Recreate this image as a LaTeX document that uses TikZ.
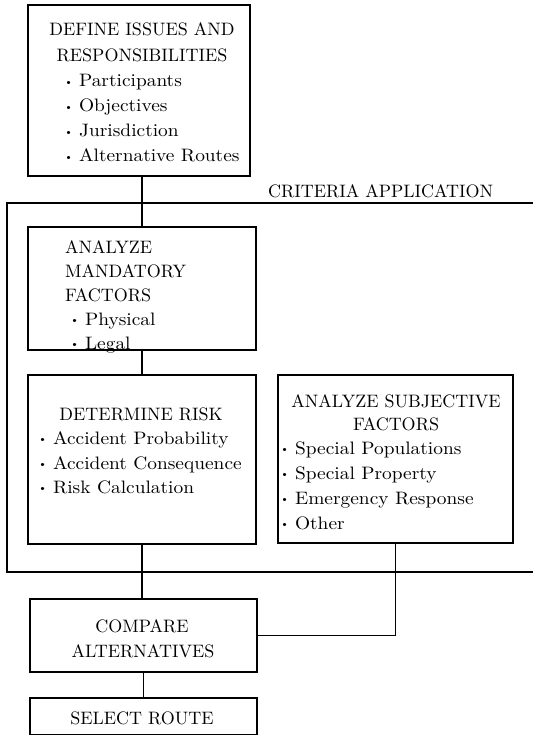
\documentclass[tikz,border=0pt]{standalone}
\usepackage{graphicx}
\newcommand\T[1]{\scalebox{1.8}{\fontsize{10}{12}\selectfont #1}}
\newcommand\TL[1]{\scalebox{1.94}[1.8]{\fontsize{10}{12}\selectfont #1}}
\newcommand\bul{\raisebox{1pt}{\scalebox{.6}{\textbullet}}\hspace{.3em}}
\begin{document}
\begin{tikzpicture}[x=1pt,y=-1pt,
  box/.style={draw, line width=1.2pt, inner sep=0pt, outer sep=0pt},
  conn/.style={line width=1.1pt},
  txt/.style={inner sep=0pt, anchor=base},
  ltxt/.style={inner sep=0pt, anchor=base west}]
\useasboundingbox (0,0) rectangle (533,735);
% boxes
\node[box, minimum width=222, minimum height=171] (define) at (139,90.5) {};
\node[box, minimum width=228, minimum height=123] (mand) at (142,288.5) {};
\node[box, minimum width=228, minimum height=169] (risk) at (142,459.5) {};
\node[box, minimum width=235, minimum height=168] (subj) at (395.5,459) {};
\node[box, minimum width=227, minimum height=73] (compare) at (143.5,635.5) {};
\node[box, minimum width=227, minimum height=37] (select) at (143.5,716.5) {};
% criteria frame
\coordinate (fTR) at (533,203);
\coordinate (fTL) at (7,203);
\coordinate (fBL) at (7,572);
\coordinate (fBR) at (533,572);
\draw[conn] (fTR) -- (fTL) -- (fBL) -- (fBR);
\node[ltxt] (crit) at (268,197) {\T{CRITERIA APPLICATION}};
% connectors
\draw[conn] (mand.north |- define.south) -- (mand.north);
\draw[conn] (mand.south) -- (risk.north);
\draw[conn] (risk.south) -- (risk.south |- compare.north);
\draw[conn] (subj.south) -- (subj.south |- compare.east) -- (compare.east);
\draw[conn] (compare.south) -- (compare.south |- select.north);
% define text
\node[txt] (d1) at (142,36) {\T{DEFINE ISSUES AND}};
\node[txt] (d2) at (142,62) {\T{RESPONSIBILITIES}};
\node[ltxt] (d3) at (64,87) {\TL{\bul Participants}};
\node[ltxt] (d4) at (64,112) {\TL{\bul Objectives}};
\node[ltxt] (d5) at (64,137) {\TL{\bul Jurisdiction}};
\node[ltxt] (d6) at (64,162) {\TL{\bul Alternative Routes}};
% mandatory text
\node[ltxt] (m1) at (65,253) {\T{ANALYZE}};
\node[ltxt] (m2) at (65,277) {\T{MANDATORY}};
\node[ltxt] (m3) at (65,301) {\T{FACTORS}};
\node[ltxt] (m4) at (70,325) {\TL{\bul Physical}};
\node[ltxt] (m5) at (70,349) {\TL{\bul Legal}};
% risk text
\node[txt] (r1) at (141,420) {\T{DETERMINE RISK}};
\node[ltxt] (r2) at (38,444) {\TL{\bul Accident Probability}};
\node[ltxt] (r3) at (38,469) {\TL{\bul Accident Consequence}};
\node[ltxt] (r4) at (38,493) {\TL{\bul Risk Calculation}};
% subjective text
\node[txt] (s1) at (396,407) {\T{ANALYZE SUBJECTIVE}};
\node[txt] (s2) at (396,430) {\T{FACTORS}};
\node[ltxt] (s3) at (280,454) {\TL{\bul Special Populations}};
\node[ltxt] (s4) at (280,479) {\TL{\bul Special Property}};
\node[ltxt] (s5) at (280,504) {\TL{\bul Emergency Response}};
\node[ltxt] (s6) at (280,529) {\TL{\bul Other}};
% compare / select text
\node[txt] (c1) at (142,632) {\T{COMPARE}};
\node[txt] (c2) at (143,657) {\T{ALTERNATIVES}};
\node[txt] (sel) at (142,724) {\T{SELECT ROUTE}};
\end{tikzpicture}
\end{document}
